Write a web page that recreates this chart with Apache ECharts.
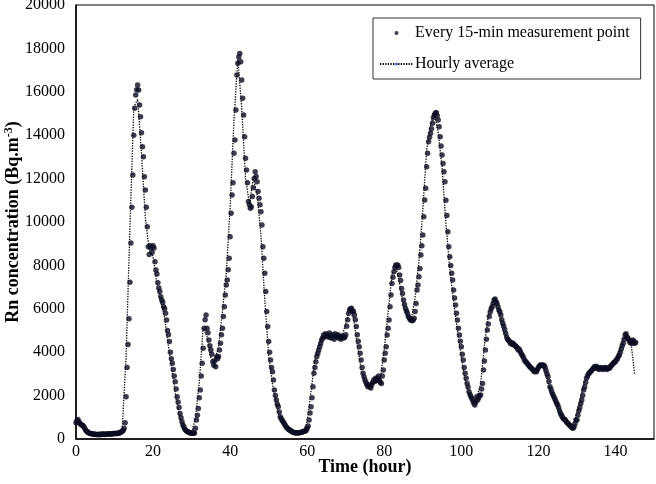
<!DOCTYPE html>
<html><head><meta charset="utf-8">
<script src="https://cdn.jsdelivr.net/npm/echarts@6/dist/echarts.min.js"></script>
<style>html,body{margin:0;padding:0;background:#fff;}#c{width:656px;height:484px;}</style>
</head><body><div id="c"></div>
<script>
// 15-min Rn concentration readings (Bq.m-3), one row per hour
const stepHours = 0.25;
const rn15 = [
 750,850,900,800, 720,680,650,620, 580,500,420,360, 320,290,270,250,
 240,230,220,230, 210,220,200,210, 220,200,230,210, 230,220,210,230,
 220,240,230,220, 240,230,250,240, 250,260,240,260, 270,280,300,330,
 350,400,500,750, 1950,3300,4360,5540, 7220,9030,10680,12170, 14000,15240,15850,16100,
 16310,16080,15390,14850, 14110,13470,13010,12090, 11470,10680,9780,8860, 8500,8900,8800,8600,
 8900,8800,8170,7790, 7600,7200,6960,6800, 6560,6400,6300,6100, 6000,5800,5480,5000,
 4800,4490,4000,3700, 3490,3200,2900,2640, 2300,1950,1700,1450, 1180,980,800,650,
 550,450,400,360, 330,310,290,280, 280,270,260,280, 500,880,1100,1410,
 1900,2260,2900,3490, 4180,5100,5500,5710, 5100,4900,4560,4300, 4100,3900,3560,3400,
 3600,3330,3790,3700, 3800,4100,4410,4800, 5100,5640,6100,6640, 7100,7330,7800,8330,
 9320,10400,11240,11810, 13170,13780,15160,16770, 17310,17600,17770,17390, 16540,15700,14930,13930,
 12940,12400,11810,10940, 10800,10630,10700,11170, 11580,12010,12320,12100, 11860,11400,11090,10800,
 10470,9860,8860,8330, 7640,6800,5870,5180, 4490,4000,3640,3300, 3100,2720,2260,2000,
 1800,1600,1490,1250, 1030,950,850,800, 720,650,570,520, 470,430,415,380,
 340,320,300,290, 280,290,280,290, 290,300,310,320, 340,360,370,400,
 490,600,875,1200, 1490,1900,2410,3030, 3300,3560,3800,3950, 4100,4250,4400,4560,
 4650,4790,4700,4850, 4750,4800,4700,4880, 4700,4650,4800,4750, 4600,4850,4700,4750,
 4800,4650,4700,4600, 4750,4700,4650,4690, 4800,5200,5500,5800, 5940,6000,6020,5900,
 5870,5710,5500,5180, 4800,4500,4250,3950, 3640,3300,3030,2870, 2720,2600,2500,2410,
 2500,2410,2350,2500, 2600,2720,2650,2800, 2700,2800,2900,2700, 2600,2560,2900,3180,
 3640,3950,4250,4790, 5100,5480,6100,6640, 7170,7450,7710,7900, 8020,8000,8020,7900,
 7560,7300,6940,6700, 6400,6200,6020,5900, 5800,5640,5580,5500, 5480,5450,5480,5560,
 5870,6250,6870,7100, 7480,7860,8480,8900, 9400,10240,11010,11550, 12550,13170,13700,13900,
 14090,14300,14550,14800, 14930,15010,15050,14900, 14700,14390,13930,13500, 13090,12700,12320,11860,
 11000,10300,9550,8860, 8400,8000,7640,7330, 6870,6500,6180,5800, 5480,5100,4790,4500,
 4250,3900,3640,3300, 3030,2800,2560,2400, 2180,2050,1950,1870, 1750,1650,1570,1700,
 1950,1800,1900,2000, 2030,2300,2560,3180, 3600,4100,4600,5020, 5300,5640,5850,6000,
 6100,6250,6400,6450, 6330,6250,6100,5950, 5850,5710,5500,5330, 5200,5050,4870,4700,
 4600,4550,4490,4400, 4450,4350,4400,4330, 4300,4250,4200,4100, 4150,4050,3950,3870,
 3800,3700,3600,3560, 3500,3450,3400,3330, 3300,3250,3200,3150, 3100,3150,3100,3200,
 3300,3350,3410,3400, 3400,3410,3380,3300, 3150,3000,2870,2650, 2410,2300,2150,2050,
 1950,1850,1750,1650, 1570,1450,1300,1180, 1100,1000,950,900, 875,800,750,700,
 650,620,560,520, 490,560,700,875, 875,1100,1300,1450, 1640,1800,2000,2260,
 2400,2600,2800,2900, 3000,3050,3100,3150, 3200,3250,3330,3300, 3350,3250,3300,3200,
 3260,3300,3250,3200, 3280,3260,3300,3200, 3250,3300,3260,3350, 3400,3450,3500,3550,
 3560,3650,3700,3800, 3870,4000,4150,4300, 4410,4600,4790,4850, 4700,4640,4550,4450,
 4490,4400,4560,4500, 4410,4450
];
const finalHourAvg = 2950; // last (partial) hourly average
const xTicks = {min: 0, max: 150, interval: 20};
const yTicks = {min: 0, max: 20000, interval: 2000};
const legendNames = ['Every 15-min measurement point', 'Hourly average'];

const pts = rn15.map((v, i) => [i * stepHours, v]);
const hourly = [];
const perHour = Math.round(1 / stepHours);
const fullHours = Math.floor(rn15.length / perHour);
for (let h = 0; h < fullHours; h++) {
  const seg = rn15.slice(h * perHour, (h + 1) * perHour);
  hourly.push([h, seg.reduce((a, b) => a + b, 0) / seg.length]);
}
hourly.push([fullHours, finalHourAvg]);

const font = '"Liberation Serif", "Times New Roman", serif';
const dotColor = '#0b0b22';
const chart = echarts.init(document.getElementById('c'), null, {renderer: 'canvas'});
chart.setOption({
  animation: false,
  backgroundColor: '#fff',
  textStyle: {fontFamily: font},
  grid: {left: 76, top: 5, right: 2, bottom: 45, containLabel: false, outerBoundsMode: 'none',
         show: true, borderColor: '#000', borderWidth: 1, backgroundColor: 'transparent'},
  legend: {
    orient: 'vertical', left: 373, top: 18,
    borderColor: '#333', borderWidth: 1, borderRadius: 0,
    padding: [7, 11, 7, 6], itemGap: 15,
    itemWidth: 33, itemHeight: 4,
    textStyle: {fontFamily: font, fontSize: 16, color: '#000', padding: [0, 0, 0, -3]},
    data: [
      {name: legendNames[0], icon: 'circle', itemStyle: {color: dotColor}},
      {name: legendNames[1]}
    ]
  },
  xAxis: {
    type: 'value', min: xTicks.min, max: xTicks.max, interval: xTicks.interval,
    name: 'Time (hour)', nameLocation: 'middle', nameGap: 19, nameMoveOverlap: false,
    nameTextStyle: {fontFamily: font, fontSize: 18, fontWeight: 'bold', color: '#000'},
    axisLine: {show: true, lineStyle: {color: '#000', width: 1.5}},
    axisTick: {show: false},
    splitLine: {show: false},
    axisLabel: {fontFamily: font, fontSize: 16, color: '#000', margin: 5, showMaxLabel: false,
                formatter: v => String(v)}
  },
  yAxis: {
    type: 'value', min: yTicks.min, max: yTicks.max, interval: yTicks.interval,
    name: '{a|Rn concentration (Bq.m}{s|-3}{a|)}', nameLocation: 'middle', nameGap: 52, nameMoveOverlap: false,
    nameTextStyle: {
      rich: {
        a: {fontFamily: font, fontSize: 18, fontWeight: 'bold', color: '#000'},
        s: {fontFamily: font, fontSize: 12, fontWeight: 'bold', color: '#000', verticalAlign: 'top', padding: [0, 0, 9, 0]}
      }
    },
    axisLine: {show: true, lineStyle: {color: '#000', width: 1.5}},
    axisTick: {show: false},
    splitLine: {show: false},
    axisLabel: {fontFamily: font, fontSize: 16, color: '#000', margin: 11, formatter: v => String(v)}
  },
  series: [
    {
      name: legendNames[1], type: 'line', data: hourly, symbol: 'none',
      lineStyle: {color: '#000', width: 1.3, type: [1.3, 1.3]},
      z: 2
    },
    {
      name: legendNames[0], type: 'scatter', data: pts, symbol: 'circle', symbolSize: 5.5,
      itemStyle: {color: dotColor},
      z: 3
    }
  ]
});
</script>
</body></html>
